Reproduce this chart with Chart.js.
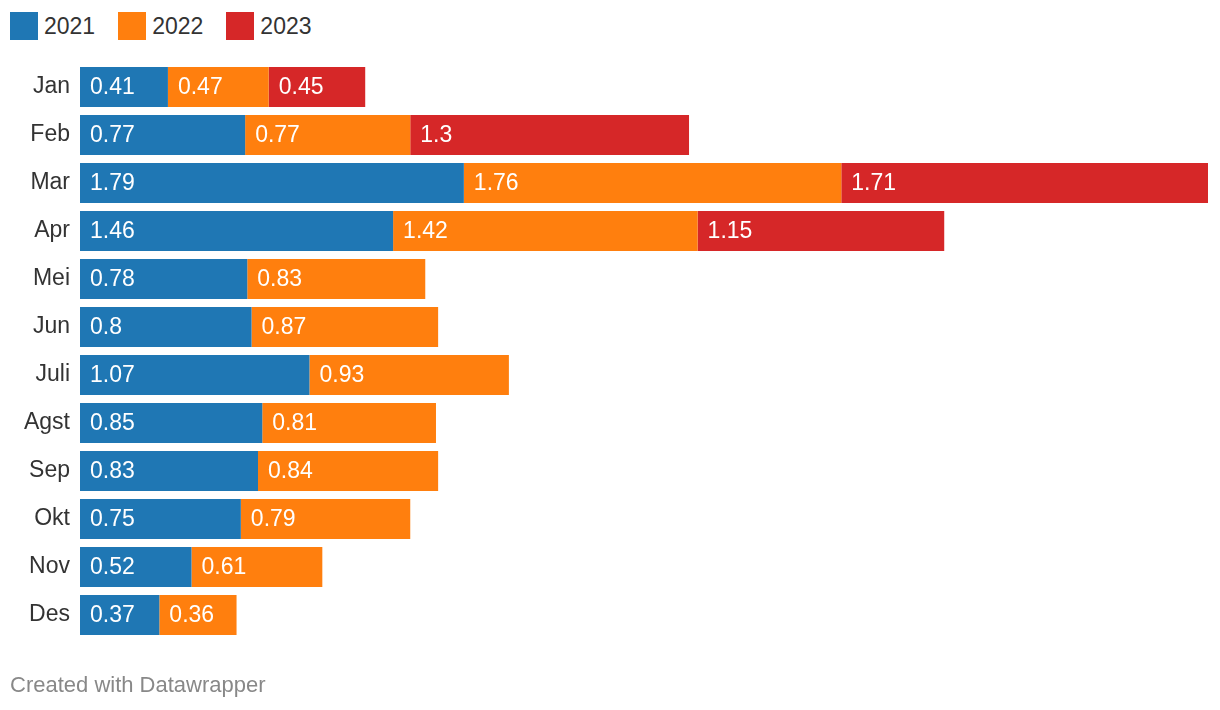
<!DOCTYPE html>
<html>
<head>
<meta charset="utf-8">
<script src="https://cdn.jsdelivr.net/npm/chart.js@4"></script>
<style>
  html, body { margin:0; padding:0; background:#fff; }
  body { width:1220px; height:710px; position:relative; overflow:hidden; font-family:"Liberation Sans", Arial, sans-serif; }
  #legend { position:absolute; left:10px; top:12px; display:flex; align-items:center; font-size:23px; color:#333; line-height:28px; }
  .item { display:flex; align-items:center; margin-right:23px; }
  .sw { width:28px; height:28px; margin-right:6px; }
  #wrap { position:absolute; left:0; top:0; width:1220px; height:710px; }
  #footer { position:absolute; left:10px; top:672px; font-size:22px; color:#888; }
</style>
</head>
<body>
<div id="legend"></div>
<div id="wrap"><canvas id="c"></canvas></div>
<div id="footer">Created with Datawrapper</div>
<script>
const categories = ["Jan","Feb","Mar","Apr","Mei","Jun","Juli","Agst","Sep","Okt","Nov","Des"];
const seriesNames = ["2021","2022","2023"];
const values2021 = [0.41,0.77,1.79,1.46,0.78,0.8,1.07,0.85,0.83,0.75,0.52,0.37];
const values2022 = [0.47,0.77,1.76,1.42,0.83,0.87,0.93,0.81,0.84,0.79,0.61,0.36];
const values2023 = [0.45,1.3,1.71,1.15,null,null,null,null,null,null,null,null];
const colors = ["#1f77b4","#ff7f0e","#d62728"];

const legend = document.getElementById('legend');
seriesNames.forEach((n,i)=>{
  const it = document.createElement('div'); it.className='item';
  const sw = document.createElement('div'); sw.className='sw'; sw.style.background=colors[i];
  const t = document.createElement('span'); t.textContent=n;
  it.appendChild(sw); it.appendChild(t); legend.appendChild(it);
});

const labelPlugin = {
  id:'barLabels',
  afterDatasetsDraw(chart){
    const ctx = chart.ctx;
    ctx.save();
    ctx.font = '23px "Liberation Sans", Arial, sans-serif';
    ctx.fillStyle = '#fff';
    ctx.textAlign = 'left';
    ctx.textBaseline = 'middle';
    chart.data.datasets.forEach((ds, di)=>{
      const meta = chart.getDatasetMeta(di);
      meta.data.forEach((el, i)=>{
        const v = ds.data[i];
        if (v === null || v === undefined) return;
        const start = Math.min(el.x, el.base);
        ctx.fillText(String(v), start + 10, el.y + 1);
      });
    });
    ctx.restore();
  }
};

new Chart(document.getElementById('c'), {
  type:'bar',
  data:{
    labels:categories,
    datasets:[values2021, values2022, values2023].map((d,i)=>({
      label:seriesNames[i], data:d, backgroundColor:colors[i], borderWidth:0,
      barPercentage:1, categoryPercentage:40/48
    }))
  },
  options:{
    indexAxis:'y',
    responsive:true, maintainAspectRatio:false, animation:false,
    layout:{ padding:{ top:63, bottom:71, right:12, left:0 } },
    plugins:{ legend:{display:false}, tooltip:{enabled:false} },
    scales:{
      x:{ stacked:true, display:false, min:0, max:5.26 },
      y:{ stacked:true,
        grid:{ display:false, drawTicks:false }, border:{display:false},
        ticks:{ color:'#333', padding:10, font:{ size:23, family:'"Liberation Sans", Arial, sans-serif' } },
        afterFit(s){ s.width = 80; }
      }
    }
  },
  plugins:[labelPlugin]
});
</script>
</body>
</html>
